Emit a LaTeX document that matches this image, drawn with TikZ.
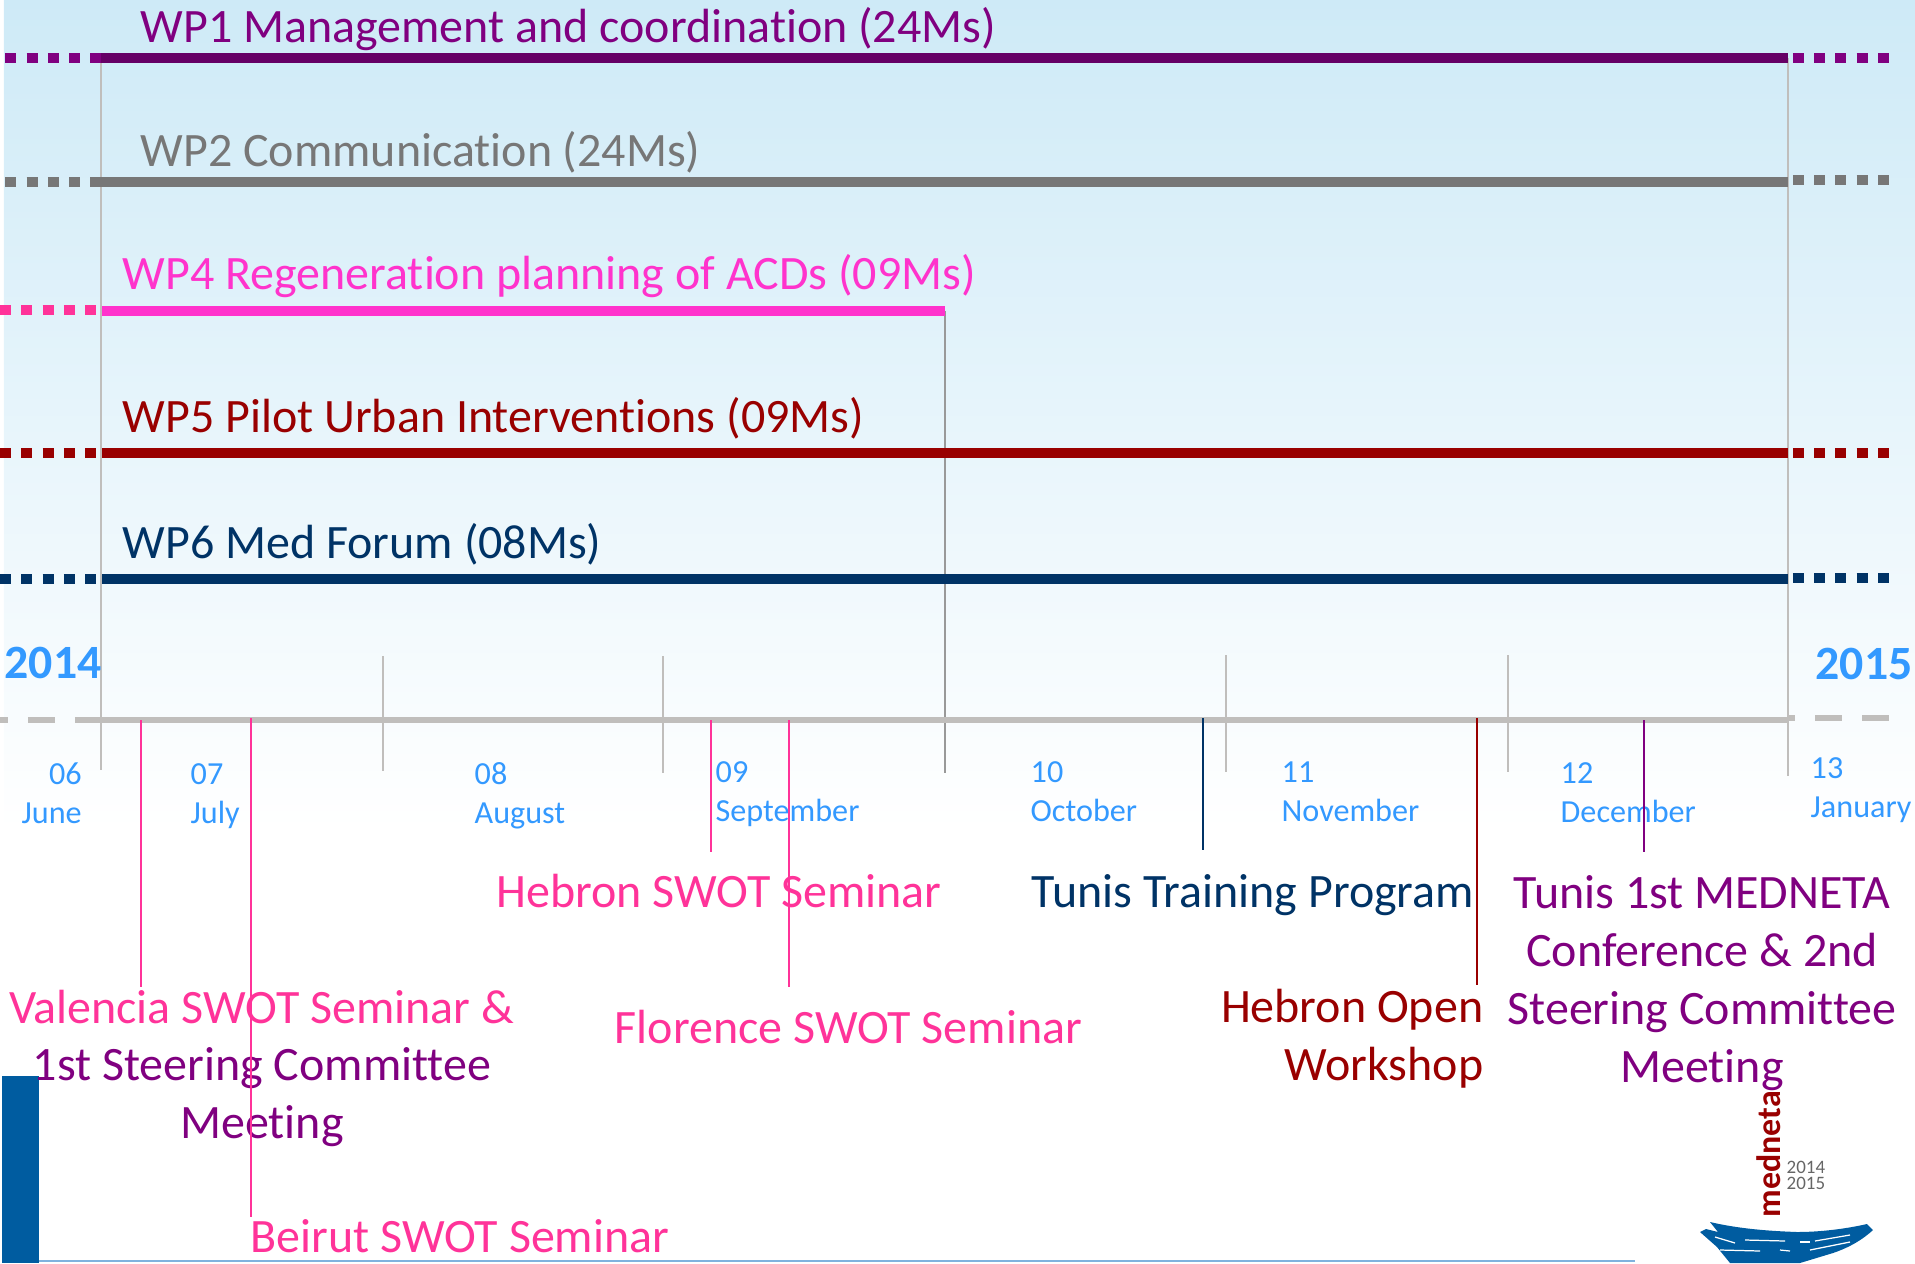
\documentclass[tikz,border=0pt]{standalone}
\usepackage{fontspec}
\setmainfont[Ligatures=NoCommon]{Carlito}
\usepackage{xcolor}
\definecolor{wpone}{HTML}{660066}
\definecolor{wponedot}{HTML}{800080}
\definecolor{wptwo}{HTML}{777777}
\definecolor{wpfour}{HTML}{FF33CC}
\definecolor{wpfourdot}{HTML}{FF3399}
\definecolor{wpfive}{HTML}{990000}
\definecolor{wpsix}{HTML}{003366}
\definecolor{axisgray}{HTML}{C0BEBC}
\definecolor{monthblue}{HTML}{3399FF}
\definecolor{barblue}{HTML}{005CA0}
\definecolor{baseblue}{HTML}{7FB2DE}
\definecolor{topblue}{HTML}{CEEAF7}
\tikzset{
  wpbar/.style={line width=3pt},
  wpdots/.style={line width=3pt,dash pattern=on 3.13pt off 2.93pt},
  axisbar/.style={axisgray,line width=1.9pt},
  axisdash/.style={axisbar,dash pattern=on 7.68pt off 5.69pt},
  tick/.style={axisgray,line width=0.55pt},
  eventline/.style={line width=0.55pt},
  brushline/.style={white,line width=0.35pt},
  wplabel/.style={inner sep=0pt,anchor=base west,font=\fontsize{13.65}{16}\selectfont},
  yearlabel/.style={inner sep=0pt,anchor=base west,text=monthblue,font=\fontsize{13.6}{16}\selectfont\bfseries},
  monthlabel/.style={inner sep=0pt,anchor=base west,align=left,text=monthblue,font=\fontsize{9.15}{11}\selectfont},
  eventlabel/.style={inner sep=0pt,anchor=base,align=center,font=\fontsize{13.65}{16.45}\selectfont}
}
\begin{document}
\begin{tikzpicture}[scale=0.1]
\useasboundingbox (0,0) rectangle (191.5,-126.3);
\shade [top color=topblue, bottom color=white] (0.4,0) rectangle (191.5,-83);
\fill [barblue] (0.2,-107.6) rectangle (3.9,-126.3);
\draw [baseblue, line width=0.4pt] (3.9,-126.1) -- (163.5,-126.1);
\coordinate (wponeA) at (0.53,-5.8);
\coordinate (wponeB) at (10.1,-5.8);
\coordinate (wponeC) at (178.8,-5.8);
\coordinate (wponeD) at (179.27,-5.8);
\coordinate (wponeE) at (188.9,-5.8);
\coordinate (wptwoA) at (0.53,-18.2);
\coordinate (wptwoB) at (10.1,-18.2);
\coordinate (wptwoC) at (178.8,-18.2);
\coordinate (wptwoD) at (179.27,-18);
\coordinate (wptwoE) at (188.9,-18);
\coordinate (wpfourA) at (0,-31);
\coordinate (wpfourB) at (9.6,-31);
\coordinate (wpfourC) at (10.2,-31.1);
\coordinate (wpfourD) at (94.5,-31.1);
\coordinate (wpfiveA) at (0,-45.3);
\coordinate (wpfiveB) at (9.6,-45.3);
\coordinate (wpfiveC) at (10.2,-45.3);
\coordinate (wpfiveD) at (178.8,-45.3);
\coordinate (wpfiveE) at (179.27,-45.3);
\coordinate (wpfiveF) at (188.9,-45.3);
\coordinate (wpsixA) at (0,-57.9);
\coordinate (wpsixB) at (9.6,-57.9);
\coordinate (wpsixC) at (10.2,-57.9);
\coordinate (wpsixD) at (178.8,-57.9);
\coordinate (wpsixE) at (179.27,-57.8);
\coordinate (wpsixF) at (188.9,-57.8);
\coordinate (axisA) at (-1.9,-72);
\coordinate (axisB) at (7.5,-72);
\coordinate (axisC) at (178.8,-72);
\coordinate (axisD) at (178.8,-71.78);
\coordinate (axisE) at (188.9,-71.78);
\coordinate (tickA) at (10.1,-77);
\coordinate (tickB) at (178.8,-77.6);
\coordinate (tickC) at (94.5,-77.3);
\coordinate (tickDa) at (38.3,-65.6);
\coordinate (tickDb) at (38.3,-77.1);
\coordinate (tickEa) at (66.3,-65.6);
\coordinate (tickEb) at (66.3,-77.3);
\coordinate (tickFa) at (122.6,-65.5);
\coordinate (tickFb) at (122.6,-77.2);
\coordinate (tickGa) at (150.8,-65.5);
\coordinate (tickGb) at (150.8,-77.2);
\draw [tick] (wponeB) -- (tickA);
\draw [tick] (wponeC) -- (tickB);
\draw [tick, wptwo!75] (wpfourD) -- (tickC);
\draw [tick] (tickDa) -- (tickDb);
\draw [tick] (tickEa) -- (tickEb);
\draw [tick] (tickFa) -- (tickFb);
\draw [tick] (tickGa) -- (tickGb);
\draw [wponedot, wpdots] (wponeA) -- (wponeB);
\draw [wponedot, wpdots] (wponeD) -- (wponeE);
\draw [wpone, wpbar] (wponeB) -- (wponeC);
\draw [wptwo, wpdots] (wptwoA) -- (wptwoB);
\draw [wptwo, wpdots] (wptwoD) -- (wptwoE);
\draw [wptwo, wpbar] (wptwoB) -- (wptwoC);
\draw [wpfourdot, wpdots] (wpfourA) -- (wpfourB);
\draw [wpfour, wpbar] (wpfourC) -- (wpfourD);
\draw [wpfive, wpdots] (wpfiveA) -- (wpfiveB);
\draw [wpfive, wpdots] (wpfiveE) -- (wpfiveF);
\draw [wpfive, wpbar] (wpfiveC) -- (wpfiveD);
\draw [wpsix, wpdots] (wpsixA) -- (wpsixB);
\draw [wpsix, wpdots] (wpsixE) -- (wpsixF);
\draw [wpsix, wpbar] (wpsixC) -- (wpsixD);
\draw [axisbar] (axisB) -- (axisC);
\draw [axisdash] (axisA) -- (axisB);
\draw [axisdash, dash phase=5.69pt] (axisD) -- (axisE);
\node [wplabel, text=wponedot] (wpone) at (14,-4.2) {WP1 Management and coordination (24Ms)};
\node [wplabel, text=wptwo] (wptwo) at (14,-16.6) {WP2 Communication (24Ms)};
\node [wplabel, text=wpfour] (wpfour) at (12.2,-28.9) {WP4 Regeneration planning of ACDs (09Ms)};
\node [wplabel, text=wpfive] (wpfive) at (12.2,-43.2) {WP5 Pilot Urban Interventions (09Ms)};
\node [wplabel, text=wpsix] (wpsix) at (12.2,-55.8) {WP6 Med Forum (08Ms)};
\node [yearlabel] (yearA) at (0.4,-67.8) {2014};
\node [yearlabel] (yearB) at (181.5,-67.9) {2015};
\node [monthlabel, align=right] (june) at (2.1,-82.3) {06\\June};
\node [monthlabel] (july) at (19,-82.3) {07\\July};
\node [monthlabel] (august) at (47.4,-82.3) {08\\August};
\node [monthlabel] (september) at (71.5,-82.1) {09\\September};
\node [monthlabel] (october) at (103,-82.1) {10\\October};
\node [monthlabel] (november) at (128.1,-82.1) {11\\November};
\node [monthlabel] (december) at (156,-82.2) {12\\December};
\node [monthlabel] (january) at (181,-81.7) {13\\January};
\node [eventlabel, text=wpfourdot] (hebron) at (71.9,-90.7) {Hebron SWOT Seminar};
\node [eventlabel, text=wpsix] (training) at (125.3,-90.7) {Tunis Training Program};
\node [eventlabel, text=wpfourdot] (florence) at (84.85,-104.3) {Florence SWOT Seminar};
\node [eventlabel, text=wpfive, anchor=base east, align=right] (open) at (148.4,-108) {Hebron Open\\Workshop};
\node [eventlabel, text=wpfourdot] (valencia) at (26.15,-102.3) {Valencia SWOT Seminar \&};
\node [eventlabel, text=wponedot] (steering) at (26.2,-113.85) {1st Steering Committee\\Meeting};
\node [eventlabel, text=wponedot] (tunis) at (170.2,-108.2) {Tunis 1st MEDNETA\\Conference \& 2nd\\Steering Committee\\Meeting};
\node [eventlabel, text=wpfourdot, anchor=base west] (beirut) at (25,-125.2) {Beirut SWOT Seminar};
\coordinate (valenciaA) at (14.1,-72);
\coordinate (valenciaB) at (14.1,-98.7);
\coordinate (beirutA) at (25.1,-71.8);
\coordinate (beirutB) at (25.1,-121.7);
\coordinate (hebronA) at (71.1,-72);
\coordinate (hebronB) at (71.1,-85.2);
\coordinate (florenceA) at (78.9,-72);
\coordinate (florenceB) at (78.9,-98.7);
\coordinate (trainingA) at (120.25,-71.8);
\coordinate (trainingB) at (120.25,-85);
\coordinate (openA) at (147.65,-71.8);
\coordinate (openB) at (147.65,-98.5);
\coordinate (tunisA) at (164.35,-72);
\coordinate (tunisB) at (164.35,-85.2);
\draw [eventline, wpfourdot] (valenciaA) -- (valenciaB);
\draw [eventline, wpfourdot] (beirutA) -- (beirutB);
\draw [eventline, wpfourdot] (hebronA) -- (hebronB);
\draw [eventline, wpfourdot] (florenceA) -- (florenceB);
\draw [eventline, wpsix] (trainingA) -- (trainingB);
\draw [eventline, wpfive] (openA) -- (openB);
\draw [eventline, wponedot] (tunisA) -- (tunisB);
\node [inner sep=0pt, rotate=90, anchor=base west, text=wpfive, font=\fontsize{9.65}{10}\selectfont\bfseries] (medneta) at (178,-121.8) {medneta};
\node [inner sep=0pt, anchor=base west, align=left, text=black!60, font=\fontsize{5.4}{4.55}\selectfont] (years) at (178.6,-118.9) {2014\\2015};
\fill [barblue] (171,-122.2) .. controls (174,-122.9) and (177,-123.1) .. (179.7,-123.2) .. controls (182,-123.2) and (184.5,-122.9) .. (186.7,-122.4) -- (187.3,-123) .. controls (186,-124.2) and (184.5,-124.9) .. (183.3,-125.3) -- (180,-126.3) -- (173,-126.3) -- (171.7,-124.7) -- (170,-123.2) -- (170.6,-122.9) -- (171.8,-123.2) -- cycle;
\draw [brushline] (171.5,-123.7) -- (173.5,-124.3);
\draw [brushline] (174.5,-124) -- (178.5,-124.1);
\draw [brushline] (180,-124.2) -- (181,-124.2);
\draw [brushline] (181.5,-124.1) -- (185,-123.5);
\draw [brushline] (172,-125) -- (176,-125.1);
\draw [brushline] (178,-125) -- (179,-125.1);
\draw [brushline] (181,-125) -- (185,-124.2);
\end{tikzpicture}
\end{document}
